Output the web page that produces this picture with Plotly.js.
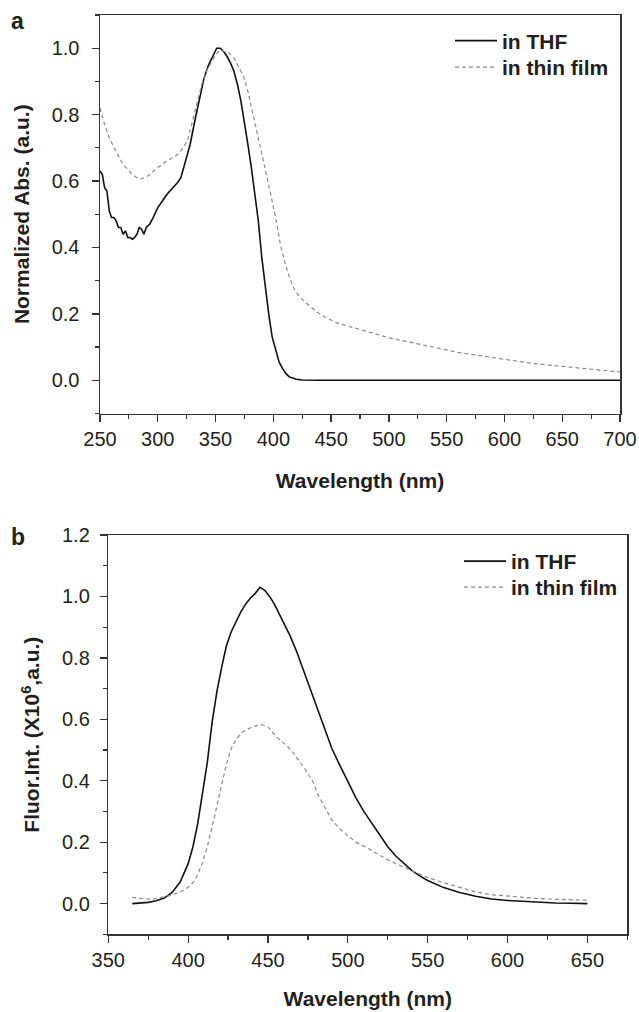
<!DOCTYPE html>
<html>
<head>
<meta charset="utf-8">
<script src="https://cdn.plot.ly/plotly-3.0.1.min.js"></script>
<style>html,body{margin:0;padding:0;background:#fff;}#chart{width:639px;height:1012px;}</style>
</head>
<body>
<div id="chart"></div>
<script>
// ---- Panel a: normalized absorption ----
const absWlTHF = [250,252,254,256,258,260,262,264,266,268,270,272,274,276,278,280,282,284,286,288,290,293,296,300,304,308,313,317,320,324,328,332,336,340,344,348,351,354,357,360,363,366,369,372,375,378,381,384,387,390,393,396,399,402,405,408,411,414,417,420,425,430,440,460,500,550,600,650,700];
const absTHF = [0.63,0.62,0.58,0.57,0.51,0.49,0.49,0.48,0.46,0.46,0.44,0.45,0.43,0.43,0.425,0.43,0.44,0.46,0.455,0.44,0.46,0.47,0.49,0.52,0.54,0.56,0.58,0.595,0.61,0.66,0.71,0.78,0.85,0.91,0.95,0.98,1.0,1.0,0.99,0.975,0.955,0.93,0.89,0.84,0.78,0.71,0.64,0.56,0.48,0.37,0.28,0.2,0.13,0.09,0.055,0.035,0.02,0.01,0.006,0.003,0.001,0,0,0,0,0,0,0,0];

const absWlFilm = [250,254,258,262,266,270,274,278,282,286,290,294,298,302,306,310,314,318,322,326,330,334,338,342,346,350,354,358,362,366,370,374,378,382,386,390,394,398,402,406,410,414,418,422,426,432,438,445,455,470,485,500,515,530,545,560,575,590,605,620,635,650,665,680,700];
const absFilm = [0.82,0.77,0.73,0.70,0.675,0.65,0.635,0.62,0.61,0.607,0.612,0.622,0.635,0.646,0.656,0.665,0.672,0.683,0.70,0.725,0.78,0.84,0.89,0.93,0.955,0.98,0.995,0.99,0.985,0.97,0.945,0.917,0.87,0.81,0.745,0.68,0.62,0.555,0.49,0.41,0.355,0.31,0.275,0.255,0.24,0.222,0.205,0.19,0.173,0.158,0.143,0.128,0.117,0.107,0.095,0.084,0.076,0.068,0.06,0.053,0.047,0.042,0.038,0.033,0.025];

// ---- Panel b: fluorescence intensity (x10^6 a.u.) ----
const flWlTHF = [365,370,375,380,385,390,395,400,403,406,409,412,415,418,421,424,427,430,433,436,439,442,445,448,451,454,457,460,464,468,472,476,480,485,490,495,500,505,510,515,520,525,530,535,540,545,550,560,570,580,590,600,610,620,630,640,650];
const flTHF = [0.0,0.001,0.004,0.009,0.018,0.036,0.07,0.13,0.185,0.26,0.355,0.46,0.59,0.69,0.77,0.84,0.885,0.92,0.95,0.975,0.995,1.01,1.03,1.02,1.0,0.975,0.945,0.915,0.87,0.82,0.763,0.705,0.645,0.575,0.505,0.45,0.395,0.345,0.3,0.262,0.22,0.185,0.155,0.13,0.108,0.09,0.075,0.052,0.036,0.024,0.015,0.01,0.007,0.004,0.002,0.001,0.0];

const flWlFilm = [365,370,375,380,385,390,395,400,403,406,409,412,415,418,421,424,427,430,434,438,442,446,450,454,458,462,466,470,474,478,482,486,490,495,500,505,510,515,520,525,530,540,550,560,570,580,590,600,610,620,630,640,650];
const flFilm = [0.02,0.017,0.015,0.016,0.021,0.028,0.038,0.053,0.068,0.095,0.135,0.185,0.25,0.315,0.38,0.455,0.505,0.535,0.558,0.57,0.578,0.583,0.575,0.55,0.53,0.513,0.49,0.462,0.432,0.398,0.348,0.31,0.272,0.243,0.22,0.2,0.187,0.172,0.157,0.143,0.13,0.107,0.085,0.068,0.052,0.038,0.029,0.024,0.019,0.016,0.014,0.012,0.011];

const seriesNames = ['in THF', 'in thin film'];
const panelLabels = ['a', 'b'];
const xTitle = 'Wavelength (nm)';
const yTitleA = 'Normalized Abs. (a.u.)';
const yTitleB = 'Fluor.Int. (X10<sup>6</sup>,a.u.)';

const W = 639, H = 1012;
const FONT = 'Liberation Sans, Arial, Helvetica, sans-serif';
const INK = '#231f20';
const AX = '#333333';
const FILM = '#8a8a8a';

const traces = [
  {x: absWlTHF, y: absTHF, xaxis:'x', yaxis:'y', type:'scatter', mode:'lines', name: seriesNames[0],
   line:{color:'#111', width:1.6}, legend:'legend'},
  {x: absWlFilm, y: absFilm, xaxis:'x', yaxis:'y', type:'scatter', mode:'lines', name: seriesNames[1],
   line:{color:FILM, width:1.2, dash:'4px,3px'}, legend:'legend2'},
  {x: flWlTHF, y: flTHF, xaxis:'x2', yaxis:'y2', type:'scatter', mode:'lines', name: seriesNames[0],
   line:{color:'#111', width:1.6}, legend:'legend3'},
  {x: flWlFilm, y: flFilm, xaxis:'x2', yaxis:'y2', type:'scatter', mode:'lines', name: seriesNames[1],
   line:{color:FILM, width:1.2, dash:'4px,3px'}, legend:'legend4'}
];

function px2fx(p){ return p / W; }
function py2fy(p){ return 1 - p / H; }

const baseAxis = {
  showline:true, linecolor:AX, linewidth:1.5, mirror:true,
  ticks:'outside', ticklen:7, tickwidth:1.3, tickcolor:AX,
  showgrid:false, zeroline:false,
  tickfont:{size:20, color:INK, family:FONT}
};
const mirrorAxis = {
  showline:false, showgrid:false, zeroline:false, showticklabels:false,
  ticks:'inside', ticklen:4, tickwidth:1, tickcolor:AX
};
function legendAt(xp, ytop){
  return {x:px2fx(xp), y:py2fy(ytop), xanchor:'left', yanchor:'top', bgcolor:'rgba(0,0,0,0)', borderwidth:0,
          itemwidth:42, font:{size:21, color:INK, family:FONT, weight:'bold'}};
}

const layout = {
  width:W, height:H,
  margin:{l:0, r:0, t:0, b:0},
  paper_bgcolor:'#ffffff', plot_bgcolor:'#ffffff',
  font:{family:FONT, color:INK},
  xaxis: Object.assign({}, baseAxis, {
    domain:[px2fx(100), px2fx(620)], anchor:'y', range:[250,700], tick0:250, dtick:50,
    minor:{dtick:25, ticks:'outside', ticklen:4, tickwidth:1.2, tickcolor:AX},
    title:{text:'<b>'+xTitle+'</b>', font:{size:21, color:INK}, standoff:24}
  }),
  yaxis: Object.assign({}, baseAxis, {
    domain:[py2fy(413.5), py2fy(15)], anchor:'x', range:[-0.1,1.1], tick0:0, dtick:0.2, tickformat:'.1f',
    minor:{dtick:0.1, ticks:'outside', ticklen:4, tickwidth:1.2, tickcolor:AX},
    ticklabelstandoff:8,
    title:{text:'<b>'+yTitleA+'</b>', font:{size:21, color:INK}, standoff:16}
  }),
  xaxis3: Object.assign({}, mirrorAxis, {overlaying:'x', anchor:'y', side:'top', range:[250,700], tick0:250, dtick:25}),
  yaxis3: Object.assign({}, mirrorAxis, {overlaying:'y', anchor:'x', side:'right', range:[-0.1,1.1], tick0:0, dtick:0.1}),
  xaxis2: Object.assign({}, baseAxis, {
    domain:[px2fx(108.3), px2fx(627.3)], anchor:'y2', range:[350,675], tick0:350, dtick:50,
    minor:{dtick:25, ticks:'outside', ticklen:4, tickwidth:1.2, tickcolor:AX},
    title:{text:'<b>'+xTitle+'</b>', font:{size:21, color:INK}, standoff:21}
  }),
  yaxis2: Object.assign({}, baseAxis, {
    domain:[py2fy(934.3), py2fy(535)], anchor:'x2', range:[-0.1,1.2], tick0:0, dtick:0.2, tickformat:'.1f',
    minor:{dtick:0.1, ticks:'outside', ticklen:4, tickwidth:1.2, tickcolor:AX},
    ticklabelstandoff:6,
    title:{text:'<b>'+yTitleB+'</b>', font:{size:21, color:INK}, standoff:16}
  }),
  xaxis4: Object.assign({}, mirrorAxis, {overlaying:'x2', anchor:'y2', side:'top', range:[350,675], tick0:350, dtick:25}),
  yaxis4: Object.assign({}, mirrorAxis, {overlaying:'y2', anchor:'x2', side:'right', range:[-0.1,1.2], tick0:0, dtick:0.1}),
  legend: legendAt(450, 20.5),
  legend2: legendAt(450, 47),
  legend3: legendAt(459, 541),
  legend4: legendAt(459, 567),
  showlegend:true,
  annotations:[
    {text:'<b>'+panelLabels[0]+'</b>', xref:'paper', yref:'paper', x:px2fx(9), y:py2fy(21), xanchor:'left', yanchor:'middle', showarrow:false, font:{size:23, color:INK}},
    {text:'<b>'+panelLabels[1]+'</b>', xref:'paper', yref:'paper', x:px2fx(9), y:py2fy(537), xanchor:'left', yanchor:'middle', showarrow:false, font:{size:23, color:INK}}
  ]
};

Plotly.newPlot('chart', traces, layout, {displayModeBar:false, staticPlot:true});
</script>
</body>
</html>
